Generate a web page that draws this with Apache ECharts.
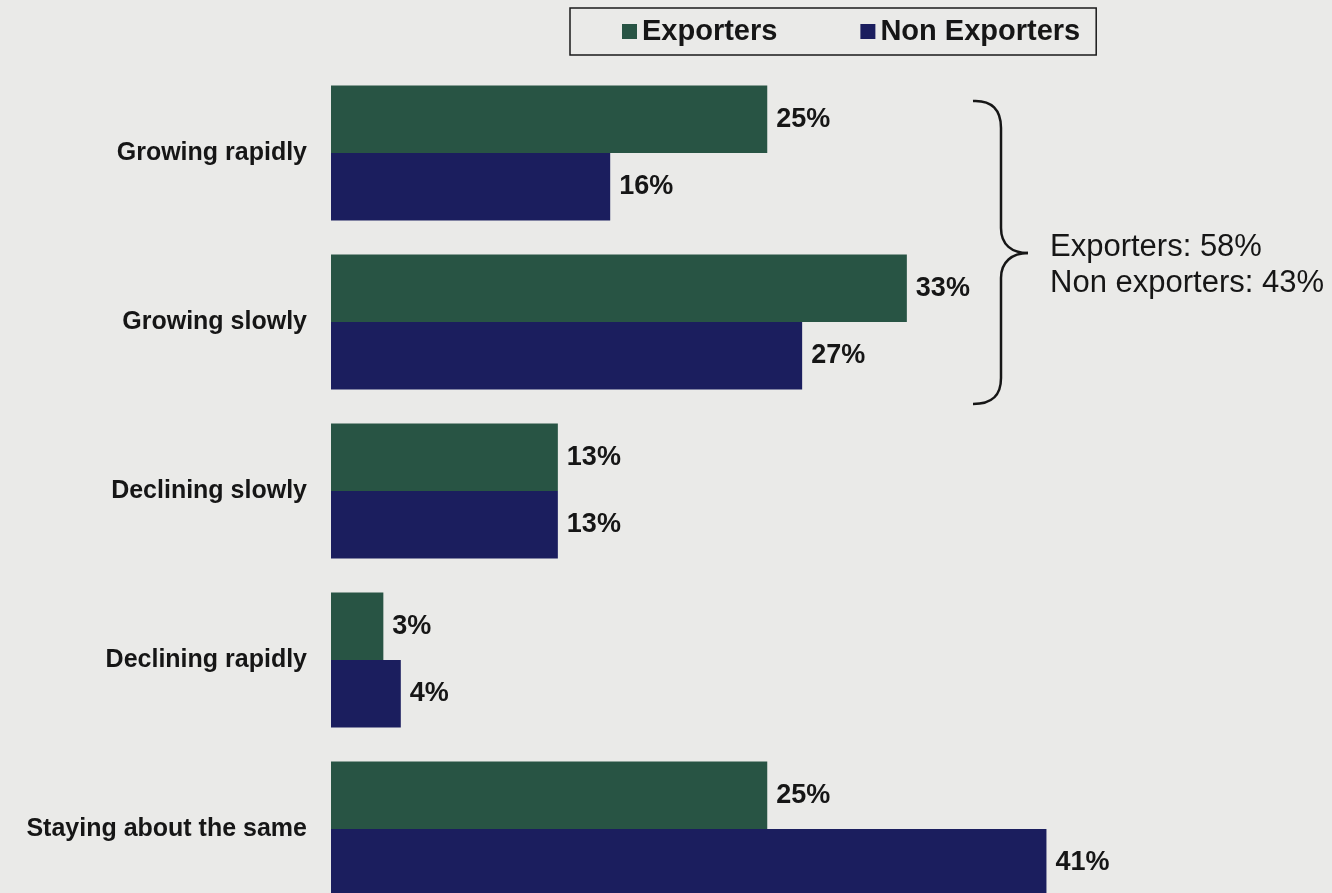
<!DOCTYPE html>
<html>
<head>
<meta charset="utf-8">
<script src="https://cdn.jsdelivr.net/npm/echarts@6/dist/echarts.min.js"></script>
<style>
  html, body { margin: 0; padding: 0; background: #eaeae8; }
  #chart { width: 1332px; height: 893px; }
</style>
</head>
<body>
<div id="chart"></div>
<script>
// Business trend categories, top to bottom
const categories = ['Growing rapidly', 'Growing slowly', 'Declining slowly', 'Declining rapidly', 'Staying about the same'];
// Share of firms (%)
const exporters = [25, 33, 13, 3, 25];
const nonExporters = [16, 27, 13, 4, 41];
const seriesNames = ['Exporters', 'Non Exporters'];

const FONT = '"Liberation Sans", Arial, Helvetica, sans-serif';
const GREEN = '#285444';
const BLUE = '#1b1e5e';
const INK = '#161616';

// Combined "growing" share for each group
const growingExp = exporters[0] + exporters[1];
const growingNon = nonExporters[0] + nonExporters[1];

const chart = echarts.init(document.getElementById('chart'));

const valueLabel = {
  show: true,
  position: 'right',
  distance: 9,
  formatter: p => p.value + '%',
  fontFamily: FONT,
  fontWeight: 'bold',
  fontSize: 27,
  color: INK
};

chart.setOption({
  backgroundColor: '#eaeae8',
  animation: false,
  legend: {
    left: 570,
    top: 8,
    padding: [9, 16, 9, 52],
    borderColor: '#1a1a1a',
    borderWidth: 1.5,
    itemGap: 83,
    itemWidth: 15,
    itemHeight: 15,
    icon: 'rect',
    textStyle: { fontFamily: FONT, fontWeight: 'bold', fontSize: 29, color: INK, lineHeight: 29 },
    data: seriesNames
  },
  // the last category runs past the bottom edge of the canvas
  grid: { left: 331, top: 68.5, width: 872.5, height: 845, containLabel: false, outerBoundsMode: 'none' },
  xAxis: {
    type: 'value', min: 0, max: 50,
    show: false
  },
  yAxis: {
    type: 'category',
    inverse: true,
    data: categories,
    axisLine: { show: false },
    axisTick: { show: false },
    axisLabel: {
      margin: 24,
      fontFamily: FONT,
      fontWeight: 'bold',
      fontSize: 25,
      color: INK
    }
  },
  series: [
    {
      name: seriesNames[0], type: 'bar', data: exporters,
      barGap: '0%', barCategoryGap: '20%',
      itemStyle: { color: GREEN },
      label: valueLabel
    },
    {
      name: seriesNames[1], type: 'bar', data: nonExporters,
      barGap: '0%', barCategoryGap: '20%',
      itemStyle: { color: BLUE },
      label: valueLabel
    }
  ],
  graphic: [
    // curly brace grouping the two "growing" categories
    {
      type: 'group',
      children: [
        { type: 'bezierCurve', shape: { x1: 973, y1: 101, cpx1: 992, cpy1: 100, cpx2: 1001, cpy2: 110, x2: 1001, y2: 128 }, style: { stroke: INK, lineWidth: 2.5, fill: null } },
        { type: 'line', shape: { x1: 1001, y1: 128, x2: 1001, y2: 228 }, style: { stroke: INK, lineWidth: 2.5 } },
        { type: 'bezierCurve', shape: { x1: 1001, y1: 228, cpx1: 1001, cpy1: 245, cpx2: 1012, cpy2: 253, x2: 1028, y2: 253 }, style: { stroke: INK, lineWidth: 2.5, fill: null } },
        { type: 'bezierCurve', shape: { x1: 1028, y1: 253, cpx1: 1012, cpy1: 253, cpx2: 1001, cpy2: 262, x2: 1001, y2: 278 }, style: { stroke: INK, lineWidth: 2.5, fill: null } },
        { type: 'line', shape: { x1: 1001, y1: 278, x2: 1001, y2: 378 }, style: { stroke: INK, lineWidth: 2.5 } },
        { type: 'bezierCurve', shape: { x1: 1001, y1: 378, cpx1: 1001, cpy1: 396, cpx2: 992, cpy2: 404, x2: 973, y2: 404 }, style: { stroke: INK, lineWidth: 2.5, fill: null } }
      ]
    },
    {
      type: 'text',
      x: 1050,
      y: 265,
      style: {
        text: 'Exporters: ' + growingExp + '%\nNon exporters: ' + growingNon + '%',
        fontFamily: FONT,
        fontSize: 31,
        lineHeight: 36,
        fill: INK,
        textAlign: 'left',
        textVerticalAlign: 'middle'
      }
    }
  ]
});
</script>
</body>
</html>
